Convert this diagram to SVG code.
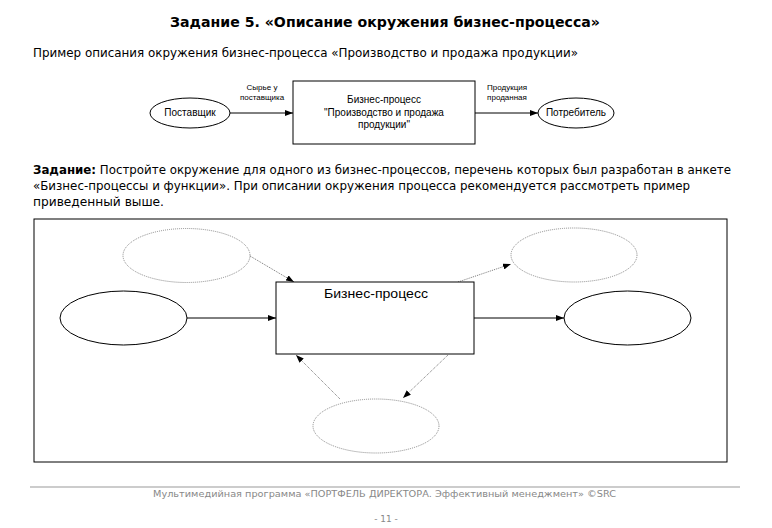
<svg xmlns="http://www.w3.org/2000/svg" width="772" height="528" viewBox="0 0 772 528">
<style>
.t{font-family:"DejaVu Sans",Verdana,sans-serif;fill:#000}
.a{font-family:"Liberation Sans",Arial,sans-serif;fill:#000}
.s{stroke:#000;stroke-width:1;fill:none}
.d{stroke:#777;stroke-width:1;fill:none;stroke-dasharray:1 1}
.n{fill:#fff;stroke:#000;stroke-width:1}
.nd{fill:#fff;stroke:#888;stroke-width:1;stroke-dasharray:1 1}
.f{font-family:"DejaVu Sans",Verdana,sans-serif;fill:#888}
</style>
<defs>
<marker id="ah" markerWidth="8" markerHeight="6" refX="8" refY="3" orient="auto" markerUnits="userSpaceOnUse">
<path d="M0,0 L8,3 L0,6 Z" fill="#000"/>
</marker>
</defs>
<rect width="772" height="528" fill="#fff"/>
<text class="t" x="385" y="27" font-size="14" font-weight="bold" text-anchor="middle" textLength="430" lengthAdjust="spacingAndGlyphs">Задание 5. «Описание окружения бизнес-процесса»</text>
<text class="t" x="33" y="57" font-size="12" textLength="545" lengthAdjust="spacingAndGlyphs">Пример описания окружения бизнес-процесса «Производство и продажа продукции»</text>

<g id="connectors">
<line class="s" x1="230" y1="113" x2="293" y2="113" marker-end="url(#ah)"/>
<line class="s" x1="475" y1="113" x2="538" y2="113" marker-end="url(#ah)"/>
<line class="s" x1="187" y1="318" x2="276" y2="318" marker-end="url(#ah)"/>
<line class="s" x1="474" y1="318" x2="564" y2="318" marker-end="url(#ah)"/>
<line class="d" x1="250" y1="256" x2="294" y2="282" marker-end="url(#ah)"/>
<line class="d" x1="458" y1="282" x2="511" y2="264" marker-end="url(#ah)"/>
<line class="d" x1="340" y1="399" x2="296" y2="355" marker-end="url(#ah)"/>
<line class="d" x1="448" y1="355" x2="403" y2="398" marker-end="url(#ah)"/>
<text class="a" x="262" y="90" font-size="8" text-anchor="middle">Сырье у</text>
<text class="a" x="262" y="100" font-size="8" text-anchor="middle">поставщика</text>
<text class="a" x="507" y="90" font-size="8" text-anchor="middle">Продукция</text>
<text class="a" x="507" y="100" font-size="8" text-anchor="middle">проданная</text>
</g>

<g id="supplier">
<ellipse class="n" cx="190" cy="113" rx="40" ry="15"/>
<text class="a" x="190" y="116" font-size="10" text-anchor="middle">Поставщик</text>
</g>
<g id="process-example">
<rect class="n" x="293" y="81" width="182" height="63"/>
<text class="a" x="384" y="103" font-size="10" text-anchor="middle">Бизнес-процесс</text>
<text class="a" x="384" y="116" font-size="10" text-anchor="middle">"Производство и продажа</text>
<text class="a" x="384" y="128" font-size="10" text-anchor="middle">продукции"</text>
</g>
<g id="consumer">
<ellipse class="n" cx="576" cy="113" rx="38" ry="15"/>
<text class="a" x="576" y="116" font-size="10" text-anchor="middle">Потребитель</text>
</g>

<g id="task-text">
<text class="t" x="33" y="174" font-size="12" textLength="698" lengthAdjust="spacingAndGlyphs"><tspan font-weight="bold">Задание:</tspan> Постройте окружение для одного из бизнес-процессов, перечень которых был разработан в анкете</text>
<text class="t" x="33" y="190" font-size="12" textLength="657" lengthAdjust="spacingAndGlyphs">«Бизнес-процессы и функции». При описании окружения процесса рекомендуется рассмотреть пример</text>
<text class="t" x="33" y="206" font-size="12" textLength="131" lengthAdjust="spacingAndGlyphs">приведенный выше.</text>
</g>

<rect x="34" y="219" width="693" height="243" fill="none" stroke="#000" stroke-width="1"/>
<g id="ellipse-top-left"><ellipse class="nd" cx="186.5" cy="255.5" rx="63.5" ry="27"/></g>
<g id="ellipse-left"><ellipse class="n" cx="123.5" cy="318" rx="63.5" ry="27"/></g>
<g id="ellipse-top-right"><ellipse class="nd" cx="574" cy="255" rx="63" ry="27"/></g>
<g id="ellipse-right"><ellipse class="n" cx="627.5" cy="318" rx="63.5" ry="27"/></g>
<g id="ellipse-bottom"><ellipse class="nd" cx="376" cy="426" rx="63" ry="27"/></g>
<g id="process">
<rect class="n" x="276" y="282" width="198" height="72"/>
<text class="a" x="324" y="298" font-size="13" textLength="104" lengthAdjust="spacingAndGlyphs">Бизнес-процесс</text>
</g>

<line x1="30" y1="487" x2="740" y2="487" stroke="#999" stroke-width="1"/>
<text class="f" x="153" y="497" font-size="9" textLength="463" lengthAdjust="spacingAndGlyphs">Мультимедийная программа «ПОРТФЕЛЬ ДИРЕКТОРА. Эффективный менеджмент» ©SRC</text>
<text class="f" x="386" y="522" font-size="9" text-anchor="middle">- 11 -</text>
</svg>
